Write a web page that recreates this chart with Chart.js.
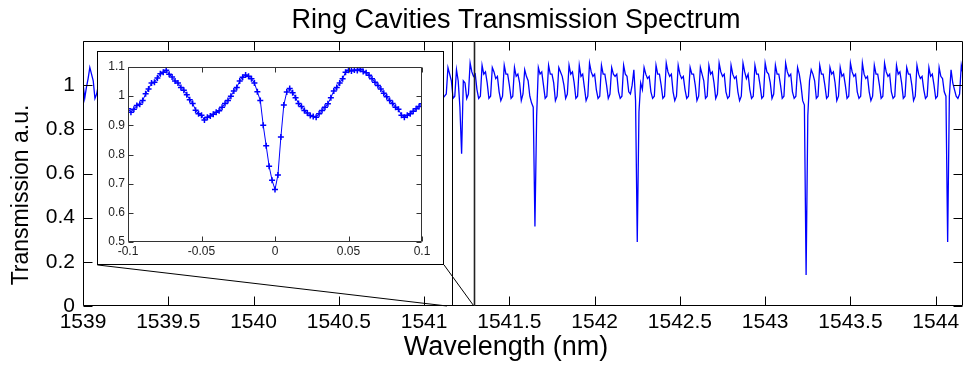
<!DOCTYPE html>
<html>
<head>
<meta charset="utf-8">
<script src="https://cdn.jsdelivr.net/npm/chart.js@4.4.0/dist/chart.umd.min.js"></script>
<style>
  body { margin: 0; background: #fff; }
  #wrap { position: relative; width: 965px; height: 365px; }
  #inset { position: absolute; background: #fff; border: 1px solid #000; box-sizing: border-box; }
  #inset canvas { display: block; }
</style>
</head>
<body>
<div id="wrap">
  <canvas id="mainChart" width="965" height="365"></canvas>
  <div id="inset"><canvas id="insetChart"></canvas></div>
</div>
<script>
const FONT = '"Liberation Sans", Arial, Helvetica, sans-serif';

// main axis ticks
const xTicks = [1539, 1539.5, 1540, 1540.5, 1541, 1541.5, 1542, 1542.5, 1543, 1543.5, 1544];
const yTicks = [0, 0.2, 0.4, 0.6, 0.8, 1];

// spectrum, sampled every 0.01 nm
const sampleStep = 0.01;
const leftStart = 1539.00;
const leftY = [1.01, 0.94, 0.99, 1.03, 1.08, 1.05, 1.02, 0.94, 0.96, 1.00];
const mainStart = 1541.10;
const mainY = [
  0.97, 0.94, 0.95, 0.96, 1.08, 1.05, 1.02, 0.94, 0.95, 1.07,
  1.02, 0.90, 0.69, 1.02, 1.01, 0.94, 0.96, 1.10, 1.06, 1.04,
  1.05, 0.98, 0.94, 0.95, 1.09, 1.05, 1.06, 1.01, 0.94, 0.95,
  1.08, 1.06, 1.03, 1.04, 0.97, 0.93, 0.95, 1.09, 1.05, 1.05,
  1.00, 0.94, 0.95, 1.08, 1.04, 1.05, 1.01, 0.93, 0.96, 1.07,
  1.04, 1.02, 0.95, 0.92, 0.90, 0.36, 0.86, 1.08, 1.05, 1.06,
  1.00, 0.94, 0.95, 1.09, 1.05, 1.05, 1.01, 0.93, 0.95, 1.08,
  1.06, 1.04, 1.00, 0.94, 0.96, 1.09, 1.05, 1.06, 1.01, 0.94,
  0.95, 1.09, 1.04, 1.05, 0.99, 0.93, 0.95, 1.10, 1.06, 1.04,
  1.05, 0.98, 0.94, 0.95, 1.09, 1.05, 1.05, 1.00, 0.94, 0.96,
  1.08, 1.05, 1.04, 1.05, 0.97, 0.94, 0.95, 1.09, 1.05, 1.04,
  0.97, 0.96, 1.00, 1.07, 0.93, 0.29, 0.88, 1.01, 0.98, 1.08,
  1.05, 1.03, 1.04, 0.97, 0.94, 0.95, 1.09, 1.05, 1.05, 1.00,
  0.94, 0.95, 1.10, 1.06, 1.04, 1.05, 0.97, 0.93, 0.95, 1.09,
  1.05, 1.03, 1.04, 0.98, 0.94, 0.95, 1.08, 1.05, 1.05, 1.00,
  0.93, 0.95, 1.08, 1.05, 1.02, 0.94, 0.95, 1.09, 1.05, 1.06,
  1.01, 0.94, 0.96, 1.10, 1.06, 1.04, 1.05, 0.97, 0.94, 0.95,
  1.09, 1.05, 1.03, 1.04, 0.97, 0.93, 0.95, 1.10, 1.06, 1.03,
  1.05, 0.98, 0.94, 0.95, 1.09, 1.05, 1.05, 1.00, 0.94, 0.95,
  1.10, 1.06, 1.05, 1.01, 0.94, 0.96, 1.09, 1.05, 1.05, 1.00,
  0.94, 0.95, 1.10, 1.06, 1.04, 1.05, 0.97, 0.94, 0.95, 1.08,
  1.05, 1.00, 0.93, 0.91, 0.14, 0.86, 1.02, 1.07, 1.05, 1.02,
  0.94, 0.95, 1.09, 1.05, 1.05, 1.00, 0.94, 0.95, 1.08, 1.05,
  1.06, 1.01, 0.93, 0.95, 1.08, 1.04, 1.05, 1.00, 0.94, 0.95,
  1.10, 1.06, 1.04, 1.05, 0.97, 0.94, 0.95, 1.10, 1.05, 1.03,
  1.04, 0.97, 0.93, 0.95, 1.09, 1.05, 1.05, 1.00, 0.94, 0.95,
  1.10, 1.06, 1.04, 1.05, 0.97, 0.94, 0.95, 1.09, 1.05, 1.06,
  1.01, 0.94, 0.95, 1.08, 1.05, 1.05, 1.00, 0.93, 0.95, 1.09,
  1.05, 1.03, 1.04, 0.98, 0.94, 0.95, 1.08, 1.04, 1.05, 1.00,
  0.94, 0.95, 1.08, 1.04, 1.03, 0.97, 0.95, 0.29, 0.95, 1.07,
  1.01, 0.98, 0.95, 0.94, 0.96, 1.09, 1.05
];

// zoom window and inset placement, in main-axis units
const zoomLines = [1541.165, 1541.292];
const connectorEnds = [1541.134, 1541.292];
const insetBox = { x0: 1539.084, x1: 1541.117, y0: 0.186, y1: 1.155 };

// inset: zoom around the first resonance, sampled every 0.002 nm
const insetXTicks = [-0.1, -0.05, 0, 0.05, 0.1];
const insetYTicks = [0.5, 0.6, 0.7, 0.8, 0.9, 1, 1.1];
const insetStart = -0.1;
const insetStep = 0.002;
const insetY = [
  0.957, 0.945, 0.955, 0.968, 0.972, 0.985, 1.008, 1.025, 1.045, 1.048,
  1.062, 1.077, 1.082, 1.089, 1.075, 1.066, 1.052, 1.045, 1.030, 1.020,
  1.005, 0.988, 0.975, 0.952, 0.940, 0.935, 0.918, 0.928, 0.932, 0.938,
  0.945, 0.950, 0.962, 0.975, 0.985, 1.000, 1.018, 1.030, 1.052, 1.065,
  1.073, 1.068, 1.060, 1.045, 1.015, 0.985, 0.900, 0.830, 0.760, 0.712,
  0.680, 0.730, 0.860, 0.970, 1.014, 1.026, 1.012, 0.995, 0.975, 0.965,
  0.951, 0.942, 0.934, 0.930, 0.928, 0.940, 0.951, 0.962, 0.974, 0.995,
  1.018, 1.030, 1.045, 1.060, 1.082, 1.089, 1.086, 1.090, 1.088, 1.092,
  1.085, 1.080, 1.072, 1.060, 1.048, 1.037, 1.025, 1.010, 0.998, 0.985,
  0.975, 0.962, 0.955, 0.935, 0.928, 0.935, 0.940, 0.948, 0.957, 0.965,
  0.974
];

const toPoints = (start, step, ys) => ys.map((y, i) => ({ x: +(start + i * step).toFixed(4), y }));
const fmt = v => String(+Number(v).toFixed(3));

// box round the plot with ticks pointing inwards, on all four sides
const frameTicks = {
  id: 'frameTicks',
  afterDraw(chart, args, o) {
    const { ctx, chartArea: a, scales: { x, y } } = chart;
    const L = Math.round(a.left) + 0.5, R = Math.round(a.right) - 0.5;
    const T = Math.round(a.top) + 0.5, B = Math.round(a.bottom) - 0.5;
    ctx.save();
    ctx.strokeStyle = o.color;
    ctx.lineWidth = o.width;
    ctx.beginPath();
    ctx.rect(L, T, R - L, B - T);
    x.ticks.forEach(t => {
      const p = Math.round(x.getPixelForValue(t.value)) + 0.5;
      ctx.moveTo(p, B); ctx.lineTo(p, B - o.len);
      ctx.moveTo(p, T); ctx.lineTo(p, T + o.len);
    });
    y.ticks.forEach(t => {
      const p = Math.round(y.getPixelForValue(t.value)) + 0.5;
      ctx.moveTo(L, p); ctx.lineTo(L + o.len, p);
      ctx.moveTo(R, p); ctx.lineTo(R - o.len, p);
    });
    ctx.stroke();
    ctx.restore();
  }
};

// zoom window lines, connectors to the inset, titles
const mainDecor = {
  id: 'mainDecor',
  afterDraw(chart) {
    const { ctx, chartArea: a, scales: { x, y } } = chart;
    ctx.save();
    zoomLines.forEach((v, i) => {
      const p = Math.round(x.getPixelForValue(v)) + 0.5;
      ctx.strokeStyle = i ? '#222' : '#000';
      ctx.lineWidth = i ? 1.6 : 1;
      ctx.beginPath();
      ctx.moveTo(p, y.getPixelForValue(0));
      ctx.lineTo(p, a.top);
      ctx.stroke();
    });
    ctx.strokeStyle = '#000';
    ctx.lineWidth = 1;
    [[insetBox.x0, connectorEnds[0]], [insetBox.x1, connectorEnds[1]]].forEach(([from, to]) => {
      ctx.beginPath();
      ctx.moveTo(x.getPixelForValue(from), y.getPixelForValue(insetBox.y0));
      ctx.lineTo(x.getPixelForValue(to), y.getPixelForValue(0));
      ctx.stroke();
    });

    ctx.fillStyle = '#000';
    ctx.textAlign = 'center';
    ctx.textBaseline = 'middle';
    ctx.font = '27px ' + FONT;
    ctx.fillText('Ring Cavities Transmission Spectrum', 516, 21);
    ctx.fillText('Wavelength (nm)', 506, 348);
    ctx.translate(22, 195);
    ctx.rotate(-Math.PI / 2);
    ctx.font = '23px ' + FONT;
    ctx.fillText('Transmission a.u.', 0, 0);
    ctx.restore();
  }
};

const mainChart = new Chart(document.getElementById('mainChart'), {
  type: 'line',
  data: {
    datasets: [
      { data: toPoints(leftStart, sampleStep, leftY), borderColor: '#0000ff', borderWidth: 1.3, pointRadius: 0 },
      { data: toPoints(mainStart, sampleStep, mainY), borderColor: '#0000ff', borderWidth: 1.3, pointRadius: 0 }
    ]
  },
  options: {
    responsive: false,
    animation: false,
    devicePixelRatio: 1,
    layout: { padding: { top: 41, right: 2, left: 0, bottom: 0 } },
    elements: { line: { tension: 0 } },
    plugins: {
      legend: { display: false },
      tooltip: { enabled: false },
      frameTicks: { color: '#000', width: 1, len: 9 }
    },
    scales: {
      x: {
        type: 'linear', min: 1539, max: 1544.16,
        afterBuildTicks: s => { s.ticks = xTicks.map(v => ({ value: v })); },
        afterFit: s => { s.height = 59; },
        grid: { display: false, drawTicks: false },
        border: { display: false },
        ticks: { padding: 4, color: '#000', autoSkip: false, maxRotation: 0, font: { family: FONT, size: 21 }, callback: fmt }
      },
      y: {
        min: 0, max: 1.2,
        afterBuildTicks: s => { s.ticks = yTicks.map(v => ({ value: v })); },
        afterFit: s => { s.width = 83; },
        grid: { display: false, drawTicks: false },
        border: { display: false },
        ticks: { padding: 8, color: '#000', font: { family: FONT, size: 21 }, callback: fmt }
      }
    }
  },
  plugins: [frameTicks, mainDecor]
});

// place the inset over the main axes
const sx = mainChart.scales.x, sy = mainChart.scales.y;
const boxLeft = Math.round(sx.getPixelForValue(insetBox.x0));
const boxRight = Math.round(sx.getPixelForValue(insetBox.x1));
const boxTop = Math.round(sy.getPixelForValue(insetBox.y1));
const boxBottom = Math.round(sy.getPixelForValue(insetBox.y0));
const insetDiv = document.getElementById('inset');
insetDiv.style.left = boxLeft + 'px';
insetDiv.style.top = boxTop + 'px';
insetDiv.style.width = (boxRight - boxLeft) + 'px';
insetDiv.style.height = (boxBottom - boxTop) + 'px';
const insetCanvas = document.getElementById('insetChart');
insetCanvas.width = boxRight - boxLeft - 2;
insetCanvas.height = boxBottom - boxTop - 2;

new Chart(insetCanvas, {
  type: 'line',
  data: {
    datasets: [{
      data: toPoints(insetStart, insetStep, insetY),
      borderColor: '#0000ff', borderWidth: 1,
      pointStyle: 'cross', pointRadius: 3, pointBorderColor: '#0000ff', pointBorderWidth: 1.5
    }]
  },
  options: {
    responsive: false,
    animation: false,
    devicePixelRatio: 1,
    layout: { padding: { top: 15, right: 21, left: 0, bottom: 0 } },
    elements: { line: { tension: 0 } },
    plugins: {
      legend: { display: false },
      tooltip: { enabled: false },
      frameTicks: { color: '#333', width: 1, len: 5 }
    },
    scales: {
      x: {
        type: 'linear', min: -0.1, max: 0.1,
        afterBuildTicks: s => { s.ticks = insetXTicks.map(v => ({ value: v })); },
        afterFit: s => { s.height = 22; },
        grid: { display: false, drawTicks: false },
        border: { display: false },
        ticks: { padding: 2, color: '#222', autoSkip: false, maxRotation: 0, font: { family: FONT, size: 12 }, callback: fmt }
      },
      y: {
        min: 0.5, max: 1.1,
        afterBuildTicks: s => { s.ticks = insetYTicks.map(v => ({ value: v })); },
        afterFit: s => { s.width = 30; },
        grid: { display: false, drawTicks: false },
        border: { display: false },
        ticks: { padding: 3, color: '#222', font: { family: FONT, size: 12 }, callback: fmt }
      }
    }
  },
  plugins: [frameTicks]
});
</script>
</body>
</html>
